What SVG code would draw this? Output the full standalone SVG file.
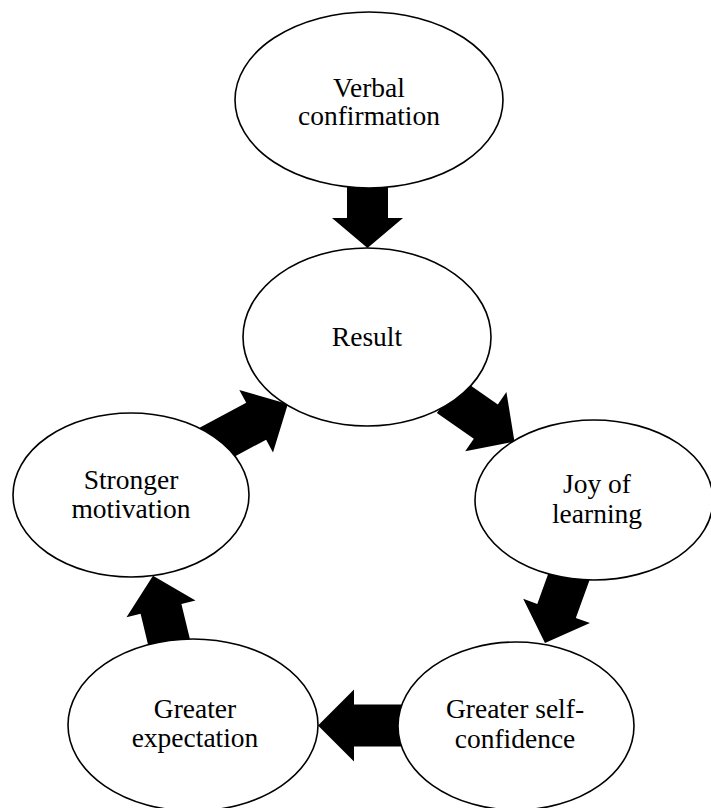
<svg xmlns="http://www.w3.org/2000/svg" width="711" height="808" viewBox="0 0 711 808">
<style>
.node ellipse{fill:#fff;stroke:#000;stroke-width:1.6}
.node text{font-family:"Liberation Serif","Times New Roman",serif;font-size:27.5px;fill:#000;text-anchor:middle}
.conn polygon{fill:#000;stroke:none}
</style>
<rect width="711" height="808" fill="#fff"/>
<g id="connectors" class="conn">
<polygon transform="translate(367.5,180) rotate(90)" points="0,-20.5 38,-20.5 38,-35.5 68,0 38,35.5 38,20.5 0,20.5"/>
<polygon transform="translate(448.9,395.9) rotate(34.9)" points="0,-21 45,-21 45,-36 80,0 45,36 45,21 0,21"/>
<polygon transform="translate(571.2,570.5) rotate(109.9)" points="0,-20.5 43,-20.5 43,-35.5 77,0 43,35.5 43,20.5 0,20.5"/>
<polygon transform="translate(409,725.5) rotate(180)" points="0,-21 55,-21 55,-36 91,0 55,36 55,21 0,21"/>
<polygon transform="translate(170.4,647.8) rotate(-103.6)" points="0,-21 40,-21 40,-35.5 74,0 40,35.5 40,21 0,21"/>
<polygon transform="translate(209.5,446.3) rotate(-28.3)" points="0,-21 53,-21 53,-35.5 89,0 53,35.5 53,21 0,21"/>
</g>
<g id="verbal" class="node">
<ellipse cx="369" cy="100" rx="134" ry="88"/>
<text x="369" y="97">Verbal</text>
<text x="369" y="125">confirmation</text>
</g>
<g id="result" class="node">
<ellipse cx="367" cy="337" rx="124" ry="89"/>
<text x="367" y="346">Result</text>
</g>
<g id="joy" class="node">
<ellipse cx="594" cy="500" rx="119" ry="80"/>
<text x="597" y="493">Joy of</text>
<text x="597" y="523">learning</text>
</g>
<g id="selfconfidence" class="node">
<ellipse cx="516" cy="726" rx="118" ry="84"/>
<text x="515" y="718">Greater self-</text>
<text x="515" y="748">confidence</text>
</g>
<g id="expectation" class="node">
<ellipse cx="193" cy="725" rx="125" ry="86"/>
<text x="195" y="718">Greater</text>
<text x="195" y="747">expectation</text>
</g>
<g id="motivation" class="node">
<ellipse cx="131" cy="495" rx="118" ry="82"/>
<text x="131" y="489">Stronger</text>
<text x="131" y="518">motivation</text>
</g>
</svg>
